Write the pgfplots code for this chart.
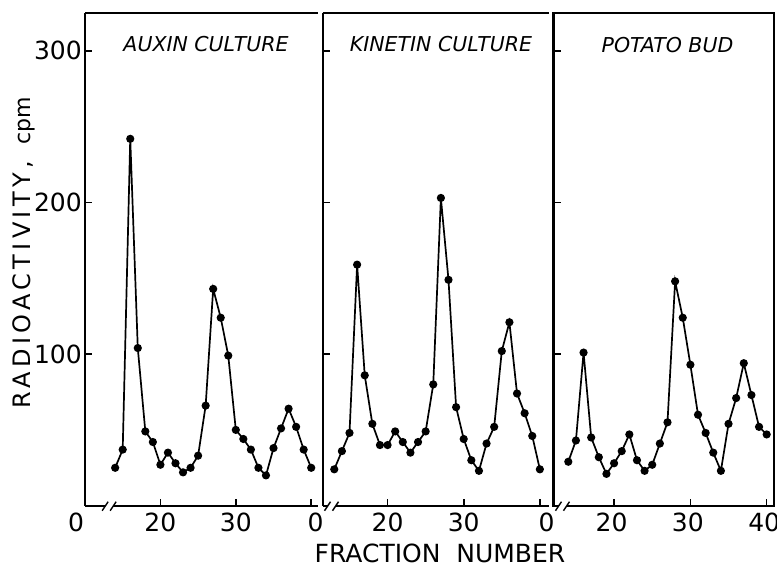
\documentclass[border=0pt]{standalone}
\usepackage{fontspec}
\setmainfont{DejaVu Sans}
\newfontfamily\ylabfont[LetterSpace=18]{DejaVu Sans}
\usepackage{pgfplots}
\pgfplotsset{compat=1.18}

\pgfplotsset{
  panel/.style={
    anchor=south west, scale only axis,
    height=492.7pt, ymin=0, ymax=325,
    axis x line*=box, axis y line*=left,
    tick pos=left, tick align=inside,
    xtick={20,30,40}, ytick={100,200,300},
    major tick length=7pt,
    axis line style={line width=2.2pt},
    every tick/.style={line width=1.6pt, black},
    ticklabel style={font=\fontsize{25}{25}\selectfont},
    /pgf/number format/assume math mode=true,
    xticklabel style={inner sep=0pt, yshift=-7pt},
    yticklabel style={inner sep=0pt, xshift=-3pt},
    clip=false,
  },
  data/.style={black, line width=1.7pt, mark=*, mark size=3.2pt},
}

\begin{document}
\begin{tikzpicture}
\useasboundingbox (0,0) rectangle (777pt,565pt);

% auxin culture
\begin{axis}[panel, at={(85pt,59.3pt)}, width=233pt, xmin=10.0, xmax=40.9,
  xticklabels={20,30,{}}, yticklabels={100,200,300}]
\addplot[data] coordinates {(14,25)(15,37)(16,242)(17,104)(18,49)(19,42)(20,27)
  (21,35)(22,28)(23,22)(24,25)(25,33)(26,66)(27,143)(28,124)(29,99)(30,50)
  (31,44)(32,37)(33,25)(34,20)(35,38)(36,51)(37,64)(38,52)(39,37)(40,25)};
\coordinate (b1) at (axis cs:13.2,0);
\node[font=\fontsize{25}{25}\selectfont, anchor=north, inner sep=0pt] at ([xshift=-9pt,yshift=-7pt]rel axis cs:0,0) {0};
\end{axis}

% kinetin culture
\begin{axis}[panel, at={(322.7pt,59.3pt)}, width=226.3pt, xmin=11.48, xmax=41.2,
  xticklabels={20,30,{}}, yticklabels={,,}]
\addplot[data] coordinates {(13,24)(14,36)(15,48)(16,159)(17,86)(18,54)(19,40)
  (20,40)(21,49)(22,42)(23,35)(24,42)(25,49)(26,80)(27,203)(28,149)(29,65)
  (30,44)(31,30)(32,23)(33,41)(34,52)(35,102)(36,121)(37,74)(38,61)(39,46)(40,24)};
\coordinate (b2) at (axis cs:12.64,0);
\node[font=\fontsize{25}{25}\selectfont, anchor=north, inner sep=0pt] at ([xshift=-7pt,yshift=-7pt]rel axis cs:0,0) {0};
\end{axis}

% potato bud
\begin{axis}[panel, axis y line*=box, at={(553.5pt,59.3pt)}, width=220.5pt, xmin=12.06, xmax=40.96,
  xticklabels={20,30,40}, yticklabels={,,},
  xticklabel style={xshift=-2.5pt}]
\addplot[data] coordinates {(14,29)(15,43)(16,101)(17,45)(18,32)(19,21)(20,28)
  (21,36)(22,47)(23,30)(24,23)(25,27)(26,41)(27,55)(28,148)(29,124)(30,93)
  (31,60)(32,48)(33,35)(34,23)(35,54)(36,71)(37,94)(38,73)(39,52)(40,47)};
\coordinate (b3) at (axis cs:13.24,0);
\node[font=\fontsize{25}{25}\selectfont, anchor=north, inner sep=0pt] at ([xshift=-7pt,yshift=-7pt]rel axis cs:0,0) {0};
\end{axis}

% axis breaks
\foreach \b in {b1,b2,b3} {
  \fill[white] ([xshift=-4pt,yshift=-3pt]\b) rectangle ([xshift=4pt,yshift=3pt]\b);
  \draw[line width=1.4pt] ([xshift=-7pt,yshift=-5pt]\b) -- ([xshift=-1pt,yshift=4pt]\b);
  \draw[line width=1.4pt] ([xshift=1pt,yshift=-5pt]\b) -- ([xshift=7pt,yshift=4pt]\b);
}

% panel titles
\begin{scope}[every node/.style={font=\itshape\fontsize{20.5}{24}\selectfont, inner sep=0pt}]
\node at (206pt,520.5pt) {AUXIN CULTURE};
\node at (441pt,520.5pt) {KINETIN CULTURE};
\node at (667.5pt,519.5pt) {POTATO BUD};
\end{scope}

% axis labels
\node[font=\fontsize{25}{25}\selectfont, inner sep=0pt] at (440pt,12pt) {FRACTION\ \ NUMBER};
\node[rotate=90, anchor=base, inner sep=0pt] at (30.7pt,312.5pt)
  {{\ylabfont\fontsize{24}{24}\selectfont RADIOACTIVITY,}\hspace{17pt}{\fontsize{22}{22}\selectfont cpm}};
\end{tikzpicture}
\end{document}
